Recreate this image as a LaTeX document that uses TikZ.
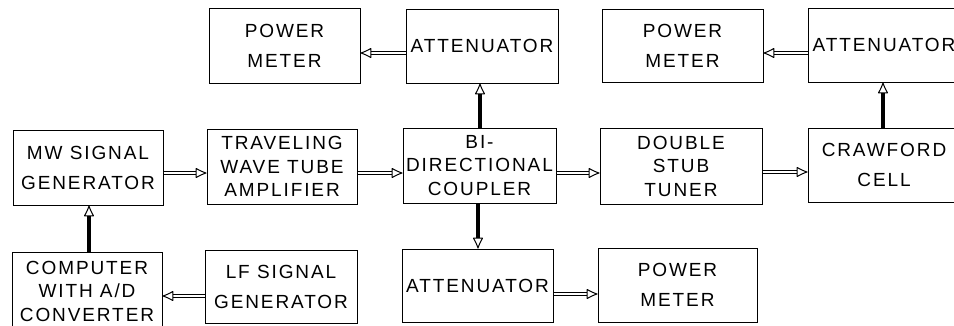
\documentclass[tikz,border=0pt]{standalone}
\usepackage{fontspec}
\setmainfont{Liberation Sans}[LetterSpace=10]
\usetikzlibrary{arrows.meta}
\begin{document}
\begin{tikzpicture}[x=1pt,y=-1pt,
  blk/.style={draw, line width=1pt, inner sep=0pt, align=center},
  two/.style={font=\fontsize{19}{30}\selectfont},
  three/.style={font=\fontsize{19}{23.5}\selectfont},
  one/.style={font=\fontsize{19}{22}\selectfont},
  hconn/.style={double, line width=0.9pt, double distance=1.6pt,
     -{Latex[open, round, length=12pt 0 0, width=11pt 0 0, line width=1pt]}},
  vconn/.style={line width=3.4pt,
     -{Latex[open, round, length=12pt 0 0, width=11pt 0 0, line width=1pt]}}]
\useasboundingbox (0,0) rectangle (954,325);
% top row
\node[blk,two,minimum width=151,minimum height=75] (pm1) at (284.5,45.5) {POWER\\METER};
\node[blk,one,minimum width=152,minimum height=74] (att1) at (482,46) {ATTENUATOR};
\node[blk,two,minimum width=161,minimum height=73] (pm2) at (682.5,45.5) {POWER\\METER};
\node[blk,one,minimum width=152,minimum height=74] (att2) at (884,45) {ATTENUATOR};
% middle row
\node[blk,two,minimum width=150,minimum height=75] (mw) at (88,167.5) {MW SIGNAL\\GENERATOR};
\node[blk,three,minimum width=150,minimum height=75] (twt) at (282,166.5) {TRAVELING\\WAVE TUBE\\AMPLIFIER};
\node[blk,three,minimum width=153,minimum height=75] (bdc) at (479.5,165.5) {BI-\\DIRECTIONAL\\COUPLER};
\node[blk,three,minimum width=162,minimum height=76] (dst) at (681,166) {DOUBLE\\STUB\\TUNER};
\node[blk,two,minimum width=152,minimum height=74] (cc) at (884,165) {CRAWFORD\\CELL};
% bottom row
\node[blk,three,minimum width=150,minimum height=78] (comp) at (87,291) {COMPUTER\\WITH A/D\\CONVERTER};
\node[blk,two,minimum width=152,minimum height=73] (lf) at (281,286.5) {LF SIGNAL\\GENERATOR};
\node[blk,one,minimum width=151,minimum height=73] (att3) at (477.5,285.5) {ATTENUATOR};
\node[blk,two,minimum width=159,minimum height=74] (pm3) at (677.5,285) {POWER\\METER};
% horizontal connectors
\draw[hconn] (mw.east |- 0,173) -- (twt.west |- 0,173);
\draw[hconn] (twt.east |- 0,173) -- (bdc.west |- 0,173);
\draw[hconn] (bdc.east |- 0,173) -- (dst.west |- 0,173);
\draw[hconn] (dst.east |- 0,172) -- (cc.west |- 0,172);
\draw[hconn] (att1.west |- 0,53) -- (pm1.east |- 0,53);
\draw[hconn] (att2.west |- 0,53) -- (pm2.east |- 0,53);
\draw[hconn] (lf.west |- 0,296) -- (comp.east |- 0,296);
\draw[hconn] (att3.east |- 0,294) -- (pm3.west |- 0,294);
% vertical connectors
\draw[vconn] (bdc.north -| 480,0) -- (att1.south -| 480,0);
\draw[vconn] (bdc.south -| 478,0) -- (att3.north -| 478,0);
\draw[vconn] (cc.north -| 883,0) -- (att2.south -| 883,0);
\draw[vconn] (comp.north -| 89,0) -- (mw.south -| 89,0);
\end{tikzpicture}
\end{document}
